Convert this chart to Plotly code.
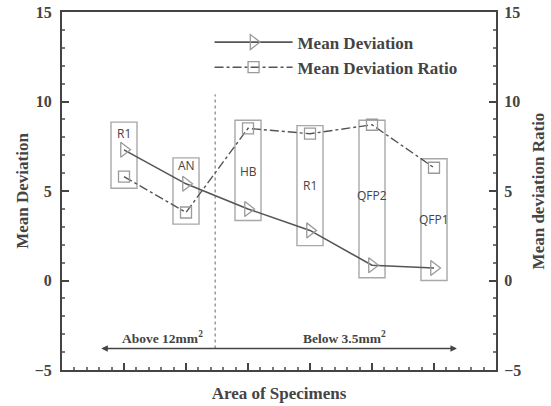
import plotly.graph_objects as go

# ---- data ----
positions = [1, 2, 3, 4, 5, 6]
specimen_labels = ["R1", "AN", "HB", "R1", "QFP2", "QFP1"]
mean_deviation = [7.3, 5.4, 4.0, 2.8, 0.85, 0.7]
mean_deviation_ratio = [5.8, 3.8, 8.5, 8.2, 8.7, 6.3]
box_top = [8.85, 6.85, 8.95, 8.65, 8.95, 6.8]
box_bottom = [5.15, 3.15, 3.35, 1.95, 0.15, 0.0]
label_y = [8.2, 6.45, 6.1, 5.3, 4.75, 3.4]
divider_x = 2.47
region_texts = ["Above 12mm<sup>2</sup>", "Below 3.5mm<sup>2</sup>"]
region_text_x = [1.62, 4.55]
y_ticks = [-5, 0, 5, 10, 15]

serif = "Liberation Serif, Times New Roman, serif"
gray_txt = "#444444"

fig = go.Figure()
fig.add_trace(go.Scatter(
    x=positions, y=mean_deviation, name="Mean Deviation",
    mode="lines+markers",
    line=dict(color="#555555", width=1.6),
    marker=dict(symbol="triangle-right-open", size=13, color="#9a9a9a",
                line=dict(width=1.3)),
))
fig.add_trace(go.Scatter(
    x=positions, y=mean_deviation_ratio, name="Mean Deviation Ratio",
    mode="lines+markers", yaxis="y2",
    line=dict(color="#555555", width=1.4, dash="dashdot"),
    marker=dict(symbol="square-open", size=11, color="#9a9a9a",
                line=dict(width=1.3)),
))

shapes = []
for xc, yt, yb in zip(positions, box_top, box_bottom):
    shapes.append(dict(type="rect", xref="x", yref="y",
                       x0=xc - 0.21, x1=xc + 0.21, y0=yb, y1=yt,
                       line=dict(color="#a8a8a8", width=1.4), layer="below"))
shapes.append(dict(type="line", xref="x", yref="y", x0=divider_x, x1=divider_x,
                   y0=-3.8, y1=10.4, line=dict(color="#666666", width=1, dash="dot")))

annotations = []
for xc, yl, lab in zip(positions, label_y, specimen_labels):
    annotations.append(dict(x=xc, y=yl, xref="x", yref="y", text=lab,
                            showarrow=False,
                            font=dict(family="Open Sans, Arial, sans-serif",
                                      size=12, color="#444444")))
# double-headed arrow
annotations.append(dict(x=6.37, y=-3.8, ax=0.61, ay=-3.8, xref="x", yref="y",
                        axref="x", ayref="y", text="", showarrow=True,
                        arrowhead=2, arrowsize=1, arrowwidth=1.3,
                        arrowside="end+start", arrowcolor="#444444"))
for tx, t in zip(region_text_x, region_texts):
    annotations.append(dict(x=tx, y=-3.2, xref="x", yref="y", text=t,
                            showarrow=False,
                            font=dict(family=serif, size=13.5, color=gray_txt, weight="bold")))

fig.update_layout(
    width=551, height=406,
    margin=dict(l=62, r=55, t=12, b=36, autoexpand=False),
    plot_bgcolor="white", paper_bgcolor="white",
    showlegend=True,
    legend=dict(x=0.34, y=0.965, xanchor="left", yanchor="top",
                bgcolor="rgba(0,0,0,0)", tracegroupgap=0, itemwidth=78,
                font=dict(family=serif, size=17, color=gray_txt, weight="bold")),
    shapes=shapes, annotations=annotations,
    xaxis=dict(range=[0, 7], tickmode="array", tickvals=positions, showticklabels=False,
               ticks="inside", ticklen=7, tickwidth=1.5, tickcolor="#444444",
               minor=dict(dtick=0.2, ticks="inside", ticklen=3, tickcolor="#777777"),
               showgrid=False, zeroline=False, showline=True, linecolor="#444444",
               linewidth=2, mirror=True, automargin=False,
               title=dict(text="Area of Specimens", standoff=16,
                          font=dict(family=serif, size=17, color=gray_txt, weight="bold"))),
    yaxis=dict(range=[-5, 15], tickvals=y_ticks, ticks="inside", ticklen=7,
               tickwidth=1.5, tickcolor="#444444", automargin=False,
               minor=dict(dtick=1, ticks="inside", ticklen=3, tickcolor="#777777"),
               showgrid=False, zeroline=False, showline=True, linecolor="#444444",
               linewidth=2, ticklabelstandoff=5,
               tickfont=dict(family=serif, size=16, color=gray_txt, weight="bold"),
               title=dict(text="Mean Deviation", standoff=2,
                          font=dict(family=serif, size=17, color=gray_txt, weight="bold"))),
    yaxis2=dict(range=[-5, 15], tickvals=y_ticks, overlaying="y", side="right",
                ticks="inside", ticklen=7, tickwidth=1.5, tickcolor="#444444",
                automargin=False,
                minor=dict(dtick=1, ticks="inside", ticklen=3, tickcolor="#777777"),
                showgrid=False, zeroline=False, showline=True, linecolor="#444444",
                linewidth=2, ticklabelstandoff=3,
                tickfont=dict(family=serif, size=16, color=gray_txt, weight="bold"),
                title=dict(text="Mean deviation Ratio", standoff=12,
                           font=dict(family=serif, size=17, color=gray_txt, weight="bold"))),
)
fig.write_html("out.html", config={"displayModeBar": False},
               post_script="document.body.style.margin='0';")
